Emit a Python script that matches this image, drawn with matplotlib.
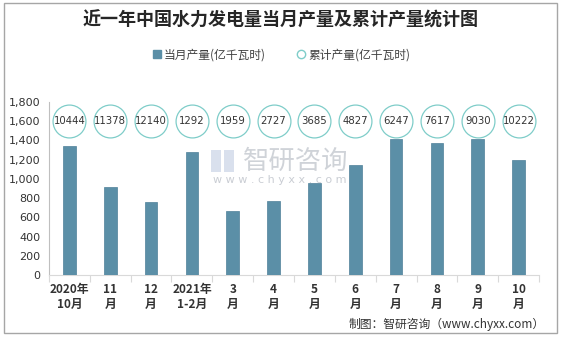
import matplotlib
matplotlib.use("Agg")
import matplotlib.pyplot as plt
from matplotlib.patches import Rectangle
from matplotlib.lines import Line2D

plt.rcParams['font.family'] = ['Noto Sans CJK SC', 'DejaVu Sans']

categories = ["2020年\n10月", "11\n月", "12\n月", "2021年\n1-2月", "3\n月", "4\n月",
              "5\n月", "6\n月", "7\n月", "8\n月", "9\n月", "10\n月"]
monthly = [1339, 915, 762, 1282, 667, 768, 958, 1142, 1420, 1370, 1413, 1192]
cumulative = [10444, 11378, 12140, 1292, 1959, 2727, 3685, 4827, 6247, 7617, 9030, 10222]
yticks = [0, 200, 400, 600, 800, 1000, 1200, 1400, 1600, 1800]

W, H = 561, 337
fig = plt.figure(figsize=(W / 100, H / 100), dpi=100)
fig.patch.set_facecolor('white')
ax = fig.add_axes([49 / W, 1 - 275 / H, (539 - 49) / W, (275 - 102) / H])

x = list(range(len(categories)))
bar_color = '#5b8fa7'
ax.bar(x, monthly, width=0.31, color=bar_color, edgecolor='#4f8199', linewidth=0.5, zorder=3)

circ_y = [1600] * len(x)
ax.scatter(x, circ_y, s=560, facecolors='white', edgecolors='#7fcdc9', linewidths=0.9, zorder=4)
for xi, v in zip(x, cumulative):
    ax.text(xi, 1600, str(v), ha='center', va='center', fontsize=7.3, color='#333333',
            family=['DejaVu Sans'], zorder=5)

ax.set_xlim(-0.5, len(x) - 0.5)
ax.set_ylim(0, 1800)
ax.set_yticks(yticks)
ax.set_yticklabels([f"{t:,}" for t in yticks], fontsize=8, color='#333333', family=['DejaVu Sans'])
ax.tick_params(axis='y', length=0, pad=6)

ax.set_xticks([i + 0.5 for i in x[:-1]] + [-0.5, len(x) - 0.5], minor=False)
ax.set_xticklabels([''] * (len(x) + 1))
ax.tick_params(axis='x', which='major', direction='out', length=5, color='#d9d9d9')
ax.set_xticks(x, minor=True)
ax.set_xticklabels(categories, minor=True, fontsize=8.5, fontweight='bold', color='#333333')
ax.tick_params(axis='x', which='minor', length=0, pad=6)

for s in ['top', 'right']:
    ax.spines[s].set_visible(False)
ax.spines['left'].set_color('#bfbfbf')
ax.spines['left'].set_linewidth(0.8)
ax.spines['bottom'].set_color('#d9d9d9')
ax.spines['bottom'].set_linewidth(0.8)

# Watermark
fig.text(243 / W, 1 - 161 / H, '智研咨询', fontsize=19, color='#c4c8cf', alpha=0.8,
         ha='left', va='center', zorder=1)
fig.text(280 / W, 1 - 180 / H, 'w w w . c h y x x . c o m', fontsize=8, color='#c4c8cf',
         alpha=0.9, ha='center', va='center', family=['DejaVu Sans'])
fig.patches.append(Rectangle((211 / W, 1 - 172 / H), 10 / W, 22 / H, transform=fig.transFigure,
                             facecolor='#c9d3e6', edgecolor='none', alpha=0.7))
fig.patches.append(Rectangle((224 / W, 1 - 172 / H), 10 / W, 22 / H, transform=fig.transFigure,
                             facecolor='#c9d3e6', edgecolor='none', alpha=0.7))

# Title
fig.text(0.5, 1 - 20 / H, '近一年中国水力发电量当月产量及累计产量统计图', fontsize=13,
         fontweight='bold', ha='center', va='center', color='#262626')

# Legend
handles = [Line2D([], [], marker='s', linestyle='none', markersize=6, markerfacecolor=bar_color,
                  markeredgecolor=bar_color),
           Line2D([], [], marker='o', linestyle='none', markersize=6, markerfacecolor='white',
                  markeredgecolor='#7fcdc9')]
fig.legend(handles, ['当月产量(亿千瓦时)', '累计产量(亿千瓦时)'], loc='center',
           bbox_to_anchor=(0.5, 1 - 55 / H), ncol=2, frameon=False, fontsize=8.5,
           handletextpad=0.1, columnspacing=2.5, handlelength=1.0, labelcolor='#404040')

# Source
fig.text(545 / W, 1 - 324 / H, '制图：智研咨询（www.chyxx.com）', fontsize=8.5, ha='right',
         va='center', color='#333333')

# Border
fig.patches.append(Rectangle((4 / W, 4 / H), (557 - 4) / W, (334 - 4) / H,
                             transform=fig.transFigure, fill=False, edgecolor='#a6a6a6',
                             linewidth=1.0))

fig.savefig('out.png', dpi=100, facecolor='white')
